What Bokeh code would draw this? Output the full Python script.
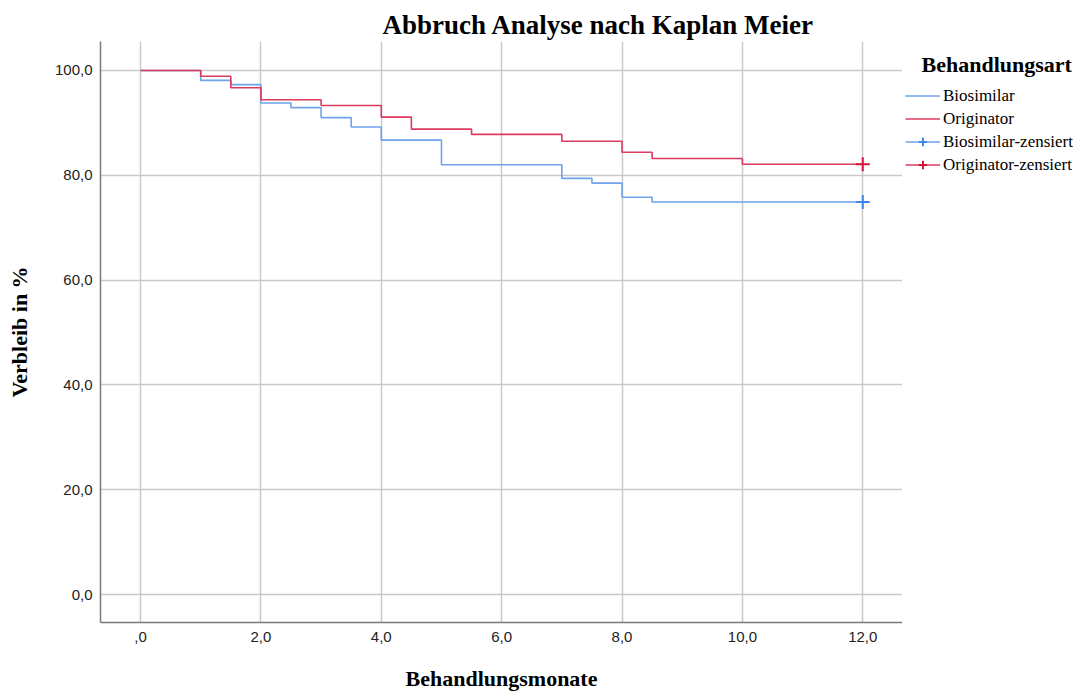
from bokeh.plotting import figure
from bokeh.models import Legend, LegendItem, Range1d, FixedTicker
from bokeh.layouts import row
from bokeh.embed import file_html
from bokeh.resources import INLINE

# ---- data ----
months_bio = [0, 1, 1.5, 2, 2.5, 3, 3.5, 4, 5, 7, 7.5, 8, 8.5, 12]
surv_bio = [100, 98.1, 97.3, 93.8, 92.9, 91.0, 89.2, 86.7, 82.0, 79.4, 78.5, 75.8, 74.9, 74.9]
months_orig = [0, 1, 1.5, 2, 3, 4, 4.5, 5.5, 7, 8, 8.5, 10, 12]
surv_orig = [100, 98.9, 96.7, 94.4, 93.3, 91.1, 88.8, 87.8, 86.5, 84.4, 83.2, 82.1, 82.1]
cens_bio_x = [12]
cens_bio_y = [74.9]
cens_orig_x = [12]
cens_orig_y = [82.1]
x_ticks = [0, 2, 4, 6, 8, 10, 12]
x_tick_labels = [",0", "2,0", "4,0", "6,0", "8,0", "10,0", "12,0"]
y_ticks = [0, 20, 40, 60, 80, 100]
y_tick_labels = ["0,0", "20,0", "40,0", "60,0", "80,0", "100,0"]

title_text = "Abbruch Analyse nach Kaplan Meier"
x_label = "Behandlungsmonate"
y_label = "Verbleib in %"
legend_title = "Behandlungsart"
names = ["Biosimilar", "Originator", "Biosimilar-zensiert", "Originator-zensiert"]

BLUE = "#6fa3ea"
BLUE_DARK = "#3d85e6"
RED = "#dc3a5f"
RED_DARK = "#d2143f"

# ---------------- main chart ----------------
p = figure(width=902, height=693, output_backend="svg", toolbar_location=None,
           x_range=Range1d(-0.665, 12.66), y_range=Range1d(-5.33, 105.52),
           min_border_left=100, min_border_right=0, min_border_top=41,
           min_border_bottom=70)
p.outline_line_color = None
p.background_fill_color = "white"
p.border_fill_color = "white"

p.title.text = title_text
p.title.text_font = "Liberation Serif"
p.title.text_font_size = "27px"
p.title.text_font_style = "bold"
p.title.align = "left"
p.title.offset = 282
p.title.standoff = 4
p.title.text_color = "black"

for ax, ticks, labels in ((p.xaxis[0], x_ticks, x_tick_labels), (p.yaxis[0], y_ticks, y_tick_labels)):
    ax.ticker = FixedTicker(ticks=ticks)
    ax.major_label_overrides = {t: l for t, l in zip(ticks, labels)}
    ax.major_tick_line_color = None
    ax.major_tick_out = 0
    ax.major_tick_in = 0
    ax.minor_tick_line_color = None
    ax.minor_tick_out = 0
    ax.axis_line_color = "#7a7a7a"
    ax.axis_line_width = 1.5
    ax.major_label_text_font = "Liberation Sans"
    ax.major_label_text_font_size = "15px"
    ax.major_label_text_color = "#222222"
    ax.axis_label_text_font = "Liberation Serif"
    ax.axis_label_text_font_size = "22px"
    ax.axis_label_text_font_style = "bold"
    ax.axis_label_text_color = "black"

p.xaxis.axis_label = x_label
p.yaxis.axis_label = y_label
p.xaxis.major_label_standoff = 9
p.xaxis.axis_label_standoff = 21
p.yaxis.major_label_standoff = 8
p.yaxis.axis_label_standoff = 20

p.xgrid.ticker = FixedTicker(ticks=x_ticks)
p.ygrid.ticker = FixedTicker(ticks=y_ticks)
for g in (p.xgrid[0], p.ygrid[0]):
    g.grid_line_color = "#c9c9c9"
    g.grid_line_width = 1.5

p.step(months_bio, surv_bio, mode="after", line_color=BLUE, line_width=1.6)
p.step(months_orig, surv_orig, mode="after", line_color=RED, line_width=1.6)
p.scatter(cens_bio_x, cens_bio_y, marker="cross", size=14, line_color=BLUE_DARK, line_width=2)
p.scatter(cens_orig_x, cens_orig_y, marker="cross", size=14, line_color=RED_DARK, line_width=2)

# ---------------- legend panel ----------------
lf = figure(width=186, height=693, output_backend="svg", toolbar_location=None,
            x_range=Range1d(1000, 1001), y_range=Range1d(1000, 1001),
            x_axis_location=None, y_axis_location=None,
            min_border_left=3, min_border_right=0, min_border_top=41, min_border_bottom=0)
lf.outline_line_color = None
lf.grid.visible = False
lf.background_fill_color = "white"
lf.border_fill_color = "white"

l_bio = lf.step(months_bio, surv_bio, mode="after", line_color=BLUE, line_width=1.6)
l_orig = lf.step(months_orig, surv_orig, mode="after", line_color=RED, line_width=1.6)
l_cbio = lf.scatter(cens_bio_x, cens_bio_y, marker="cross", size=14, line_color=BLUE_DARK, line_width=2)
l_corig = lf.scatter(cens_orig_x, cens_orig_y, marker="cross", size=14, line_color=RED_DARK, line_width=2)

legend = Legend(items=[
    LegendItem(label=names[0], renderers=[l_bio]),
    LegendItem(label=names[1], renderers=[l_orig]),
    LegendItem(label=names[2], renderers=[l_bio, l_cbio]),
    LegendItem(label=names[3], renderers=[l_orig, l_corig]),
], location=(0, 447))
legend.title = "\u00a0\u00a0\u00a0" + legend_title
legend.title_text_font = "Liberation Serif"
legend.title_text_font_size = "22px"
legend.title_text_font_style = "bold"
legend.title_text_color = "black"
legend.title_standoff = 7
legend.label_text_font = "Liberation Serif"
legend.label_text_font_size = "17px"
legend.label_text_color = "black"
legend.label_standoff = 3
legend.glyph_width = 35
legend.glyph_height = 21
legend.label_height = 21
legend.spacing = 2
legend.padding = 0
legend.margin = 0
legend.border_line_color = None
legend.background_fill_alpha = 0
lf.add_layout(legend, "center")

layout = row(p, lf)
open("out.html", "w").write(file_html(layout, INLINE))
